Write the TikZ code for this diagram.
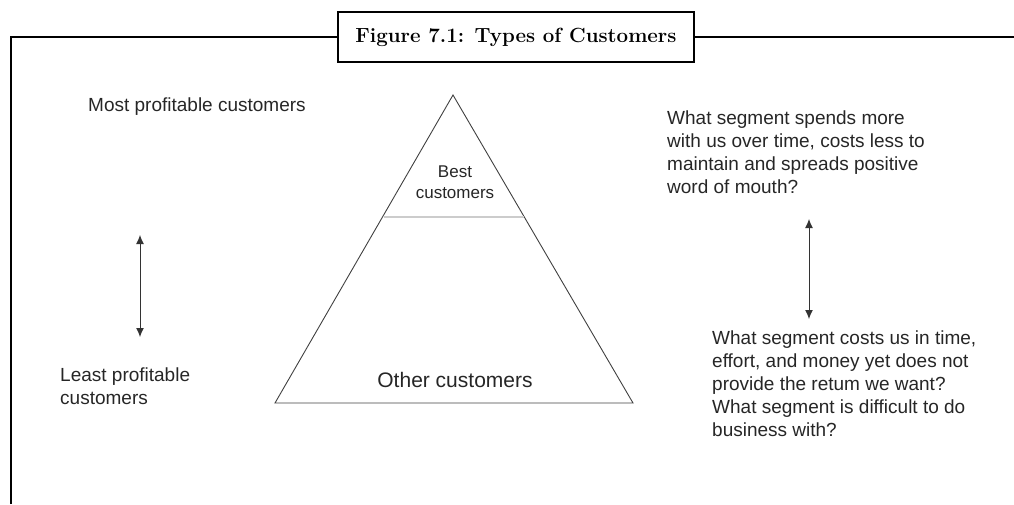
\documentclass[tikz,border=0pt]{standalone}
\usepackage{fontspec}
\setsansfont{Liberation Sans}
\usetikzlibrary{arrows.meta}

\tikzset{
  frameline/.style={line width=2pt,black},
  txt/.style={font=\sffamily\fontsize{19}{23}\selectfont,text=black!85,inner sep=0pt,align=left},
  twoway/.style={{Latex[length=9pt,width=8pt]}-{Latex[length=9pt,width=8pt]},line width=1pt,black!80}
}

\begin{document}
\begin{tikzpicture}[x=1pt,y=-1pt]
      \useasboundingbox (0,0) rectangle (1014,504);
      % frame and title
      \node[draw,frameline,minimum width=356pt,minimum height=50pt,inner sep=0pt,
            font=\bfseries\fontsize{20.5}{24}\selectfont] (title) at (516,37) {Figure 7.1: Types of Customers};
      \draw[frameline] (11,504) -- (11,37) -- (title.west);
      \draw[frameline] (title.east) -- (1014,37);
      % pyramid
      \coordinate (apex) at (453,95);
      \coordinate (baseL) at (275,403);
      \coordinate (baseR) at (633,403);
      \draw[black!75,line width=0.9pt,line join=miter] (apex) -- (baseL) -- (baseR) -- cycle;
      \draw[black!20,line width=1.6pt] (384,217) -- (524,217);
      \node[txt,align=center,font=\sffamily\fontsize{17}{21}\selectfont] (best) at (455,182) {Best\\customers};
      \node[txt,font=\sffamily\fontsize{21}{25}\selectfont] (other) at (455,380) {Other customers};
      % left side
      \node[txt,anchor=west] (most) at (88,107) {Most profitable customers};
      \node[txt,anchor=north west] (least) at (60,368) {Least profitable\\customers};
      \coordinate (la) at (140,235);
      \coordinate (lb) at (140,337);
      \draw[twoway] (la) -- (lb);
      % right side
      \node[txt,anchor=north west] (spends) at (667,111) {What segment spends more\\with us over time, costs less to\\maintain and spreads positive\\word of mouth?};
      \node[txt,anchor=north west] (costs) at (712,331) {What segment costs us in time,\\effort, and money yet does not\\provide the retum we want?\\What segment is difficult to do\\business with?};
      \coordinate (ra) at (809,219);
      \coordinate (rb) at (809,319);
      \draw[twoway] (ra) -- (rb);
\end{tikzpicture}
\end{document}
